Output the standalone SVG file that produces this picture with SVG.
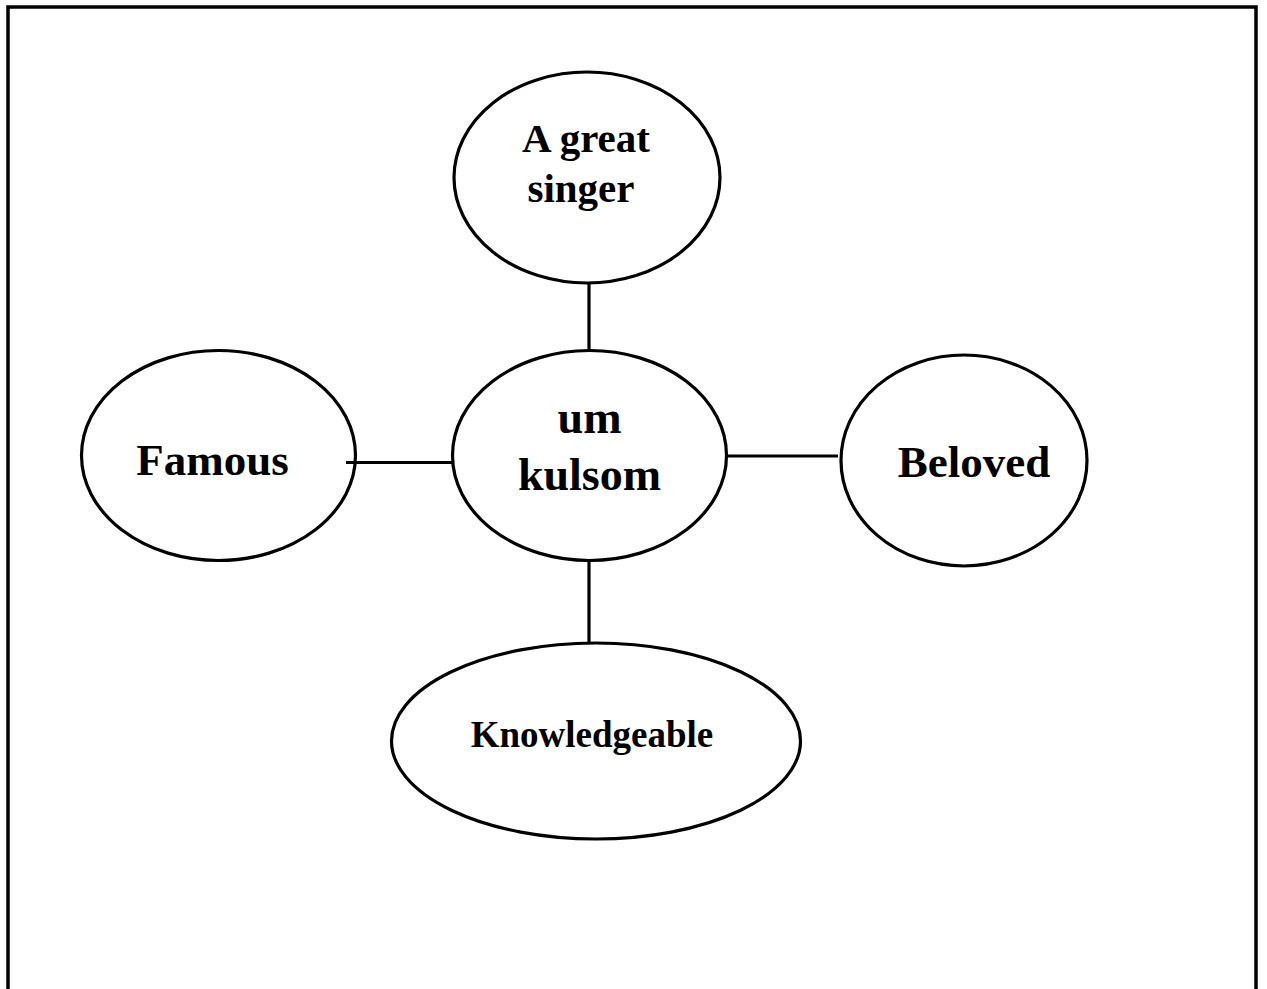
<svg xmlns="http://www.w3.org/2000/svg" width="1267" height="989" viewBox="0 0 1267 989">
  <style>
    .frame { fill: none; stroke: #000; stroke-width: 3.5; }
    .node { fill: #fff; stroke: #000; stroke-width: 3.2; }
    .link { stroke: #000; stroke-width: 3.2; fill: none; }
    .label { font-family: "Liberation Serif", "Times New Roman", serif; font-weight: bold; fill: #000; text-anchor: middle; }
  </style>
  <rect width="1267" height="989" fill="#fff"/>
  <!-- outer frame, open at the bottom -->
  <path class="frame" d="M8,995 V7 H1256 V995"/>

  <g id="node-singer">
    <ellipse class="node" cx="587" cy="177.5" rx="133" ry="105.5"/>
    <text class="label" font-size="41" x="586" y="152">A great</text>
    <text class="label" font-size="41" x="581" y="202">singer</text>
  </g>

  <g id="node-center">
    <ellipse class="node" cx="589.5" cy="455.5" rx="137" ry="105"/>
    <text class="label" font-size="46" x="589.5" y="433">um</text>
    <text class="label" font-size="46" x="589.5" y="490">kulsom</text>
  </g>

  <g id="node-famous">
    <ellipse class="node" cx="218.5" cy="455.5" rx="137" ry="105"/>
    <text class="label" font-size="45" x="212.5" y="475">Famous</text>
  </g>

  <g id="node-beloved">
    <ellipse class="node" cx="964" cy="460.5" rx="123" ry="105.5"/>
    <text class="label" font-size="45" x="974" y="477">Beloved</text>
  </g>

  <g id="node-knowledgeable">
    <ellipse class="node" cx="596" cy="741" rx="204.5" ry="98"/>
    <text class="label" font-size="37" x="592" y="747">Knowledgeable</text>
  </g>

  <!-- connectors drawn last so the short stub inside "Famous" stays visible -->
  <g id="connectors">
    <line class="link" x1="589" y1="283" x2="589" y2="351"/>
    <line class="link" x1="346" y1="462.5" x2="453" y2="462.5"/>
    <line class="link" x1="726" y1="456" x2="838" y2="456"/>
    <line class="link" x1="589" y1="560" x2="589" y2="643"/>
  </g>
</svg>
